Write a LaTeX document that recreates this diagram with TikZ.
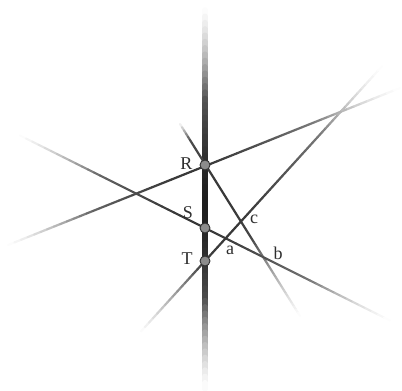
\documentclass[tikz,border=0pt]{standalone}
\usepackage{fontspec}
\setmainfont{Liberation Serif}
\usetikzlibrary{calc}
\tikzset{
  ptmark/.style={circle, draw=black!80, fill=black!45, line width=0.9pt, minimum size=10pt, inner sep=0pt},
  lbl/.style={font=\fontsize{18}{18}\selectfont, inner sep=0pt, text=black!82},
}
% x1 y1 x2 y2 dmax width fadestart fadeend : line drawn in small pieces,
% fading towards its ends and away from the middle of the figure
\newcommand\fadeline[8]{%
  \pgfmathsetmacro\len{100*sqrt(((#3-#1)/100)^2+((#4-#2)/100)^2)}%
  \foreach \i in {1,...,60}{%
    \pgfmathsetmacro\xa{#1+(#3-#1)/60*(\i-1)}%
    \pgfmathsetmacro\ya{#2+(#4-#2)/60*(\i-1)}%
    \pgfmathsetmacro\xb{#1+(#3-#1)/60*\i}%
    \pgfmathsetmacro\yb{#2+(#4-#2)/60*\i}%
    \pgfmathsetmacro\tm{(\i-0.5)/60}%
    \pgfmathsetmacro\ef{min(1,min(\len*\tm/#7,\len*(1-\tm)/#8))}%
    \pgfmathsetmacro\dx{((\xa+\xb)/2-205)/100}%
    \pgfmathsetmacro\dy{((\ya+\yb)/2-207)/100}%
    \pgfmathsetmacro\rr{min(1,sqrt(\dx*\dx+\dy*\dy)/2.7)}%
    \pgfmathsetmacro\dk{#5*(1-\rr*sqrt(\rr))*\ef}%
    \draw[line width=#6, draw=black!\dk, line cap=round] (\xa,\ya) -- (\xb,\yb);
  }}
\begin{document}
\begin{tikzpicture}[x=1pt,y=-1pt]
\useasboundingbox (0,0) rectangle (402,391);
% vertical line
\fadeline{205}{10}{205}{389}{88}{5.5pt}{90}{90}
% line through R (shallow)
\fadeline{8}{245}{400}{88}{82}{2.2pt}{90}{90}
% line through R (steep)
\fadeline{180}{124}{300}{316}{80}{2.2pt}{20}{90}
% line through S
\fadeline{20}{135.5}{390}{320.5}{80}{2.2pt}{90}{90}
% line through T
\fadeline{141}{331.4}{382}{66.3}{82}{2.2pt}{90}{90}
% points
\node[ptmark] (R) at (205,165) {};
\node[ptmark] (S) at (205,228) {};
\node[ptmark] (T) at (205,261) {};
% labels
\node[lbl] (lR) at (186.5,163.5) {R};
\node[lbl] (lS) at (188,213) {S};
\node[lbl] (lT) at (187,259) {T};
\node[lbl] (la) at (230,250) {a};
\node[lbl] (lb) at (278,253) {b};
\node[lbl] (lc) at (254,219) {c};
\end{tikzpicture}
\end{document}
